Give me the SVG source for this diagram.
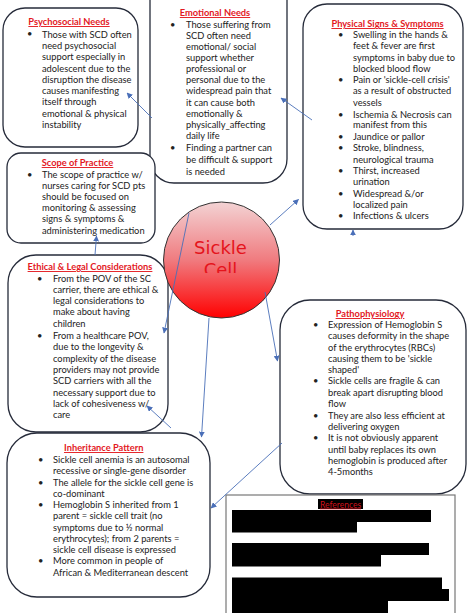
<svg xmlns="http://www.w3.org/2000/svg" width="474" height="613" viewBox="0 0 474 613">
<style>
.box{fill:#fff;stroke:#262b3a;stroke-width:1.3}
.t{font-family:Lato,"Liberation Sans",sans-serif;font-size:9.3px;fill:#222}
.h{font-family:Lato,"Liberation Sans",sans-serif;font-size:9.3px;font-weight:bold;fill:#e3191f;text-decoration:underline;text-anchor:middle}
.c{stroke:#4a6fb8;stroke-width:0.9;fill:none;marker-end:url(#ah)}
.r{fill:#000}
</style>
<defs>
<marker id="ah" viewBox="0 0 10 10" refX="9" refY="5" markerWidth="6" markerHeight="6" orient="auto" markerUnits="userSpaceOnUse">
<path d="M0,0 L10,5 L0,10 z" fill="#4a6fb8"/>
</marker>
<linearGradient id="g" x1="0" y1="0" x2="0" y2="1">
<stop offset="0" stop-color="#f3d3d4"/>
<stop offset="0.5" stop-color="#f07b7f"/>
<stop offset="1" stop-color="#ff0000"/>
</linearGradient>
<clipPath id="cc"><rect x="150" y="200" width="140" height="73"/></clipPath>
</defs>

<g id="emotional">
<rect class="box" x="150" y="-25" width="137" height="208" rx="24"/>
<text class="h" x="215" y="16">Emotional Needs</text>
<text class="t" x="170" y="28">•</text>
<text class="t" x="170" y="151">•</text>
<text class="t"><tspan x="186" y="28">Those suffering from</tspan><tspan x="186" y="38.5">SCD often need</tspan><tspan x="186" y="49.5">emotional/ social</tspan><tspan x="186" y="60.5">support whether</tspan><tspan x="186" y="71.5">professional or</tspan><tspan x="186" y="83">personal due to the</tspan><tspan x="186" y="94">widespread pain that</tspan><tspan x="186" y="105.5">it can cause both</tspan><tspan x="186" y="116.5">emotionally &amp;</tspan><tspan x="186" y="128">physically_affecting</tspan><tspan x="186" y="139">daily life</tspan><tspan x="186" y="151">Finding a partner can</tspan><tspan x="186" y="163">be difficult &amp; support</tspan><tspan x="186" y="174.5">is needed</tspan></text>
</g>

<g id="psychosocial">
<rect class="box" x="3" y="8" width="135" height="139" rx="22"/>
<text class="h" x="69" y="25">Psychosocial Needs</text>
<text class="t" x="27" y="37">•</text>
<text class="t"><tspan x="42" y="37.5">Those with SCD often</tspan><tspan x="42" y="49">need psychosocial</tspan><tspan x="42" y="60">support especially in</tspan><tspan x="42" y="71.5">adolescent due to the</tspan><tspan x="42" y="82.5">disruption the disease</tspan><tspan x="42" y="94">causes manifesting</tspan><tspan x="42" y="105">itself through</tspan><tspan x="42" y="116.5">emotional &amp; physical</tspan><tspan x="42" y="127.5">instability</tspan></text>
</g>

<g id="physical">
<rect class="box" x="303" y="4" width="160" height="225" rx="24"/>
<text class="h" x="387.5" y="27">Physical Signs &amp; Symptoms</text>
<text class="t"><tspan x="338" y="37.5">•</tspan><tspan x="338" y="83">•</tspan><tspan x="338" y="117.5">•</tspan><tspan x="338" y="139.5">•</tspan><tspan x="338" y="151">•</tspan><tspan x="338" y="174">•</tspan><tspan x="338" y="196.5">•</tspan><tspan x="338" y="219">•</tspan></text>
<text class="t"><tspan x="353" y="37.5">Swelling in the hands &amp;</tspan><tspan x="353" y="49">feet &amp; fever are first</tspan><tspan x="353" y="60.5">symptoms in baby due to</tspan><tspan x="353" y="72">blocked blood flow</tspan><tspan x="353" y="83">Pain or 'sickle-cell crisis'</tspan><tspan x="353" y="94">as a result of obstructed</tspan><tspan x="353" y="105.5">vessels</tspan><tspan x="353" y="117.5">Ischemia &amp; Necrosis can</tspan><tspan x="353" y="128">manifest from this</tspan><tspan x="353" y="139.5">Jaundice or pallor</tspan><tspan x="353" y="151">Stroke, blindness,</tspan><tspan x="353" y="162.5">neurological trauma</tspan><tspan x="353" y="174">Thirst, increased</tspan><tspan x="353" y="185">urination</tspan><tspan x="353" y="196.5">Widespread &amp;/or</tspan><tspan x="353" y="207.5">localized pain</tspan><tspan x="353" y="219">Infections &amp; ulcers</tspan></text>
</g>

<g id="scope">
<rect class="box" x="7" y="153" width="148" height="90" rx="14"/>
<text class="h" x="77.5" y="166">Scope of Practice</text>
<text class="t" x="27" y="178">•</text>
<text class="t"><tspan x="42" y="178">The scope of practice w/</tspan><tspan x="42" y="189">nurses caring for SCD pts</tspan><tspan x="42" y="200">should be focused on</tspan><tspan x="42" y="211">monitoring &amp; assessing</tspan><tspan x="42" y="222">signs &amp; symptoms &amp;</tspan><tspan x="42" y="233.5">administering medication</tspan></text>
</g>

<g id="ethical">
<rect class="box" x="8" y="255" width="160" height="177" rx="28"/>
<text class="h" x="90" y="270">Ethical &amp; Legal Considerations</text>
<text class="t"><tspan x="37" y="281.5">•</tspan><tspan x="37" y="339">•</tspan></text>
<text class="t"><tspan x="53" y="281.5">From the POV of the SC</tspan><tspan x="53" y="292.5">carrier, there are ethical &amp;</tspan><tspan x="53" y="304">legal considerations to</tspan><tspan x="53" y="315">make about having</tspan><tspan x="53" y="326.5">children</tspan><tspan x="53" y="339">From a healthcare POV,</tspan><tspan x="53" y="350">due to the longevity &amp;</tspan><tspan x="53" y="361.5">complexity of the disease</tspan><tspan x="53" y="373">providers may not provide</tspan><tspan x="53" y="384">SCD carriers with all the</tspan><tspan x="53" y="395.5">necessary support due to</tspan><tspan x="53" y="406.5">lack of cohesiveness w/</tspan><tspan x="53" y="417.5">care</tspan></text>
</g>

<g id="patho">
<rect class="box" x="280" y="300" width="186" height="194" rx="30"/>
<text class="h" x="370" y="317">Pathophysiology</text>
<text class="t"><tspan x="313" y="327.5">•</tspan><tspan x="313" y="384">•</tspan><tspan x="313" y="419">•</tspan><tspan x="313" y="441">•</tspan></text>
<text class="t"><tspan x="328" y="327.5">Expression of Hemoglobin S</tspan><tspan x="328" y="339">causes deformity in the shape</tspan><tspan x="328" y="350.5">of the erythrocytes (RBCs)</tspan><tspan x="328" y="362">causing them to be 'sickle</tspan><tspan x="328" y="373">shaped'</tspan><tspan x="328" y="384">Sickle cells are fragile &amp; can</tspan><tspan x="328" y="395.5">break apart disrupting blood</tspan><tspan x="328" y="407">flow</tspan><tspan x="328" y="419">They are also less efficient at</tspan><tspan x="328" y="430">delivering oxygen</tspan><tspan x="328" y="441">It is not obviously apparent</tspan><tspan x="328" y="452.5">until baby replaces its own</tspan><tspan x="328" y="464">hemoglobin is produced after</tspan><tspan x="328" y="475">4-5months</tspan></text>
</g>

<g id="inheritance">
<rect class="box" x="7" y="433" width="203" height="164" rx="30"/>
<text class="h" x="103.7" y="451">Inheritance Pattern</text>
<text class="t"><tspan x="38" y="462.5">•</tspan><tspan x="38" y="485.5">•</tspan><tspan x="38" y="508">•</tspan><tspan x="38" y="564">•</tspan></text>
<text class="t"><tspan x="53" y="462.5">Sickle cell anemia is an autosomal</tspan><tspan x="53" y="474">recessive or single-gene disorder</tspan><tspan x="53" y="485.5">The allele for the sickle cell gene is</tspan><tspan x="53" y="496.5">co-dominant</tspan><tspan x="53" y="508">Hemoglobin S inherited from 1</tspan><tspan x="53" y="519">parent = sickle cell trait (no</tspan><tspan x="53" y="530.5">symptoms due to ½ normal</tspan><tspan x="53" y="541.5">erythrocytes); from 2 parents =</tspan><tspan x="53" y="552.5">sickle cell disease is expressed</tspan><tspan x="53" y="564">More common in people of</tspan><tspan x="53" y="575.5">African &amp; Mediterranean descent</tspan></text>
</g>

<g id="references">
<rect x="226" y="495" width="229" height="125" fill="#fff" stroke="#777" stroke-width="1.2"/>
<rect class="r" x="318" y="499" width="45" height="10"/>
<text x="340.5" y="507.5" text-anchor="middle" style="font-family:Lato,'Liberation Sans',sans-serif;font-size:8.5px;fill:#d0101a;text-decoration:underline">References</text>
<rect class="r" x="232" y="510" width="199" height="12"/>
<rect class="r" x="232" y="521.5" width="125" height="11"/>
<rect class="r" x="232" y="543" width="197" height="12"/>
<rect class="r" x="232" y="554.5" width="149" height="12"/>
<rect class="r" x="232" y="577.5" width="210" height="12"/>
<rect class="r" x="232" y="589" width="217" height="12"/>
<rect class="r" x="232" y="600.5" width="156" height="13"/>
</g>

<g id="sickle-cell">
<circle cx="221.5" cy="260" r="58" fill="url(#g)" stroke="#333" stroke-width="1"/>
<text x="220.5" y="254" text-anchor="middle" style="font-family:'DejaVu Sans',sans-serif;font-size:18px;fill:#e5141c">Sickle</text>
<text x="220.5" y="276" text-anchor="middle" clip-path="url(#cc)" style="font-family:'DejaVu Sans',sans-serif;font-size:18px;fill:#e5141c">Cell</text>
</g>

<g id="connectors">
<line class="c" x1="152" y1="118" x2="127" y2="93"/>
<line class="c" x1="312" y1="120" x2="281" y2="98"/>
<line class="c" x1="270" y1="225" x2="298.5" y2="199.5"/>
<line class="c" x1="95" y1="255" x2="96.5" y2="236"/>
<line class="c" x1="189" y1="213" x2="164" y2="333"/>
<line class="c" x1="171" y1="428" x2="147" y2="406"/>
<line class="c" x1="209" y1="318" x2="201.5" y2="437"/>
<line class="c" x1="265" y1="292" x2="277.5" y2="361"/>
<line class="c" x1="282" y1="443" x2="211" y2="508"/>
<line class="c" x1="353" y1="236" x2="353" y2="230"/>
</g>
</svg>
